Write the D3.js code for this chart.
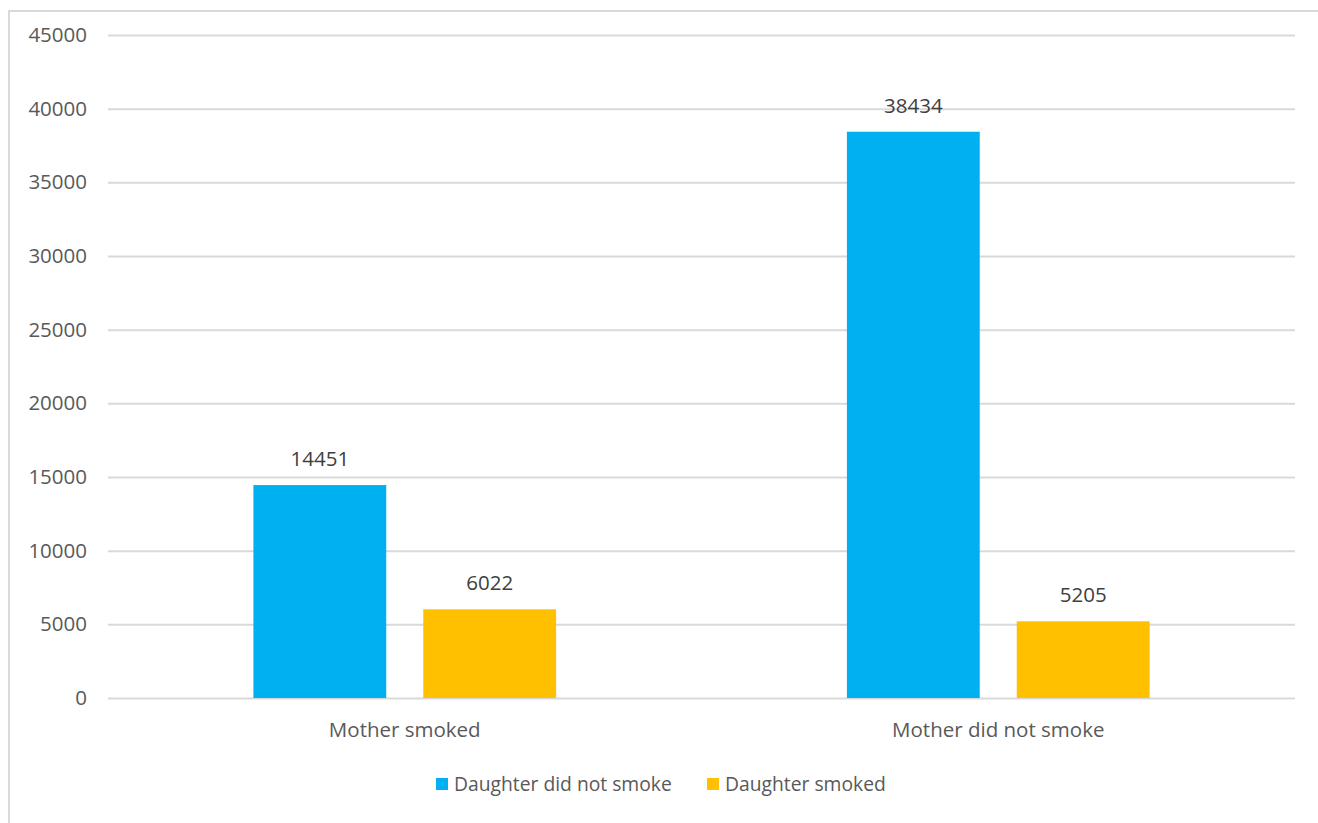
<!DOCTYPE html>
<html lang="en">
<head>
    <meta charset="UTF-8">
    <script src="https://d3js.org/d3.v7.min.js"></script>
    <style>
        body { margin: 0; background: #fff; }
        svg text { font-family: "Open Sans", sans-serif; }
    </style>
</head>
<body>
    <svg width="1318" height="823"></svg>
    <script>
        // chart values
        var categories = ["Mother smoked", "Mother did not smoke"];
        var seriesNames = ["Daughter did not smoke", "Daughter smoked"];
        var notSmoke = [14451, 38434];
        var smoked = [6022, 5205];
        var yTicks = [0, 5000, 10000, 15000, 20000, 25000, 30000, 35000, 40000, 45000];
        var colors = ["#00b0f0", "#ffc000"];

        var svg = d3.select("svg");
        var fs = "20.5px";

        // outer frame
        svg.append("rect")
            .attr("x", 9).attr("y", 11)
            .attr("width", 1340).attr("height", 840)
            .attr("fill", "none")
            .attr("stroke", "#d9d9d9")
            .attr("stroke-width", 2);

        var plotL = 108, plotR = 1295, plotT = 35, plotB = 698;

        var x0 = d3.scaleBand().domain(categories).range([plotL, plotR])
            .paddingInner(0.49).paddingOuter(0.245);
        var x1 = d3.scaleBand().domain(seriesNames).range([0, x0.bandwidth()])
            .paddingInner(0.218).paddingOuter(0);
        var y = d3.scaleLinear().domain([0, 45000]).range([plotB, plotT]);

        // gridlines + tick labels
        var yAxis = svg.append("g")
            .attr("transform", "translate(" + plotL + ",0)")
            .call(d3.axisLeft(y).tickValues(yTicks).tickFormat(d3.format("d"))
                .tickSize(-(plotR - plotL)).tickPadding(21));
        yAxis.select(".domain").remove();
        yAxis.selectAll(".tick line").attr("stroke", "#d9d9d9").attr("stroke-width", 2);
        yAxis.selectAll(".tick text")
            .attr("fill", "#595959")
            .style("font-size", fs)
            .style("font-family", "Open Sans, sans-serif");

        var rows = categories.map(function(c, i) {
            return { cat: c, values: [notSmoke[i], smoked[i]] };
        });

        var groups = svg.selectAll(".grp")
            .data(rows)
            .enter()
            .append("g")
            .attr("class", "grp")
            .attr("transform", function(d) { return "translate(" + x0(d.cat) + ",0)"; });

        groups.selectAll("rect")
            .data(function(d) { return d.values.map(function(v, i) { return { s: seriesNames[i], v: v, i: i }; }); })
            .enter()
            .append("rect")
            .attr("x", function(d) { return x1(d.s); })
            .attr("y", function(d) { return y(d.v); })
            .attr("width", x1.bandwidth())
            .attr("height", function(d) { return plotB - y(d.v); })
            .attr("fill", function(d) { return colors[d.i]; });

        groups.selectAll(".val")
            .data(function(d) { return d.values.map(function(v, i) { return { s: seriesNames[i], v: v }; }); })
            .enter()
            .append("text")
            .attr("class", "val")
            .attr("x", function(d) { return x1(d.s) + x1.bandwidth() / 2; })
            .attr("y", function(d) { return y(d.v) - 19; })
            .attr("text-anchor", "middle")
            .attr("fill", "#404040")
            .style("font-size", fs)
            .text(function(d) { return d.v; });

        // category labels
        svg.selectAll(".cat")
            .data(categories)
            .enter()
            .append("text")
            .attr("class", "cat")
            .attr("x", function(d) { return x0(d) + x0.bandwidth() / 2; })
            .attr("y", 737)
            .attr("text-anchor", "middle")
            .attr("fill", "#595959")
            .style("font-size", fs)
            .text(function(d) { return d; });

        // legend
        var legendX = [436, 707];
        var legend = svg.selectAll(".leg")
            .data(seriesNames)
            .enter()
            .append("g")
            .attr("class", "leg")
            .attr("transform", function(d, i) { return "translate(" + legendX[i] + ",778)"; });
        legend.append("rect")
            .attr("width", 12).attr("height", 12)
            .attr("fill", function(d, i) { return colors[i]; });
        legend.append("text")
            .attr("x", 18).attr("y", 13)
            .attr("fill", "#595959")
            .style("font-size", "19.3px")
            .text(function(d) { return d; });
    </script>
</body>
</html>
